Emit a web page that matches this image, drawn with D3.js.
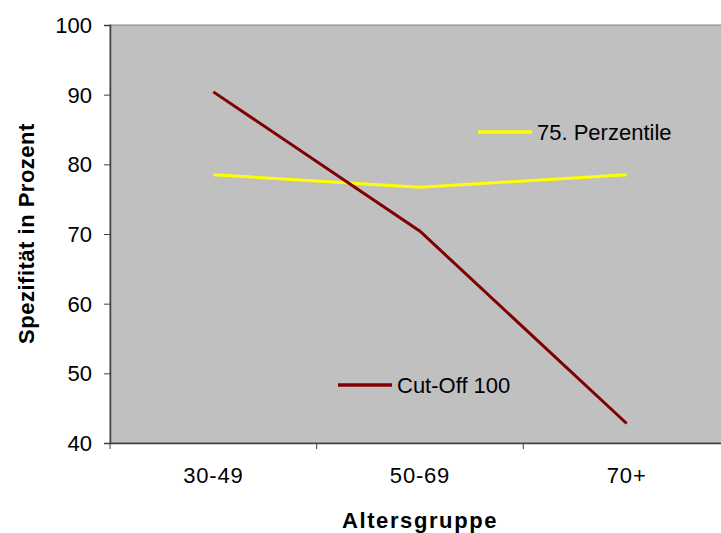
<!DOCTYPE html>
<html><head><meta charset="utf-8">
<script src="https://cdn.jsdelivr.net/npm/d3@7"></script>
<style>body{margin:0;background:#fff}svg{display:block}</style>
</head><body>
<svg id="c" width="721" height="533"></svg>
<script>
const categories = ["30-49", "50-69", "70+"];
const cutOff = [90.4, 70.4, 42.8];
const perzentile = [78.5, 76.7, 78.5];
const yTicks = [40, 50, 60, 70, 80, 90, 100];
const seriesNames = ["Cut-Off 100", "75. Perzentile"];

const svg = d3.select("#c");
const L = 110, T = 25, B = 443, R = 730;
const x = d3.scaleBand().domain(categories).range([L, R]).padding(0);
const y = d3.scaleLinear().domain([40, 100]).range([B, T]);
const font = "Arial, 'Liberation Sans', sans-serif";

svg.append("rect").attr("x", L).attr("y", T).attr("width", R - L).attr("height", B - T)
  .attr("fill", "#c0c0c0").attr("stroke", "#808080").attr("stroke-width", 1);

const ya = svg.append("g").attr("transform", `translate(${L},0)`)
  .call(d3.axisLeft(y).tickValues(yTicks).tickSize(6).tickPadding(12));
ya.select(".domain").attr("stroke", "#404040").attr("stroke-width", 1.5);
ya.selectAll(".tick line").attr("stroke", "#404040");
ya.selectAll("text").attr("font-family", font).attr("font-size", 22).attr("fill", "#000")
  .attr("dy", "0.34em");

const xa = svg.append("g").attr("transform", `translate(0,${B})`)
  .call(d3.axisBottom(x).tickSize(0).tickPadding(0));
xa.select(".domain").attr("stroke", "#404040").attr("stroke-width", 1.5);
xa.selectAll("text").attr("font-family", font).attr("font-size", 22).attr("fill", "#000")
  .attr("dy", 0).attr("y", 40).attr("letter-spacing", 0.8);
const bounds = categories.map(c => x(c));
svg.append("g").selectAll("line").data(bounds).join("line")
  .attr("x1", d => d).attr("x2", d => d).attr("y1", B).attr("y2", B + 6)
  .attr("stroke", "#404040").attr("stroke-width", 1);

const line = d3.line().x((d, i) => x(categories[i]) + x.bandwidth() / 2).y(d => y(d));
svg.append("path").datum(perzentile).attr("d", line).attr("fill", "none")
  .attr("stroke", "#ffff00").attr("stroke-width", 3);
svg.append("path").datum(cutOff).attr("d", line).attr("fill", "none")
  .attr("stroke", "#800000").attr("stroke-width", 3);

const leg = [
  {name: seriesNames[1], color: "#ffff00", x: 478, y: 132},
  {name: seriesNames[0], color: "#800000", x: 338, y: 385}
];
leg.forEach(l => {
  svg.append("line").attr("x1", l.x).attr("x2", l.x + 54).attr("y1", l.y).attr("y2", l.y)
    .attr("stroke", l.color).attr("stroke-width", 3.5);
  svg.append("text").attr("x", l.x + 59).attr("y", l.y + 7.5).text(l.name)
    .attr("font-family", font).attr("font-size", 22).attr("fill", "#000");
});

svg.append("text").attr("transform", "translate(34,233.5) rotate(-90)")
  .attr("text-anchor", "middle").attr("font-family", font).attr("font-weight", "bold")
  .attr("font-size", 22).attr("letter-spacing", 0.5).text("Spezifität in Prozent");
svg.append("text").attr("x", 420).attr("y", 528)
  .attr("text-anchor", "middle").attr("font-family", font).attr("font-weight", "bold")
  .attr("font-size", 22).attr("letter-spacing", 1.6).text("Altersgruppe");
</script>
</body></html>
